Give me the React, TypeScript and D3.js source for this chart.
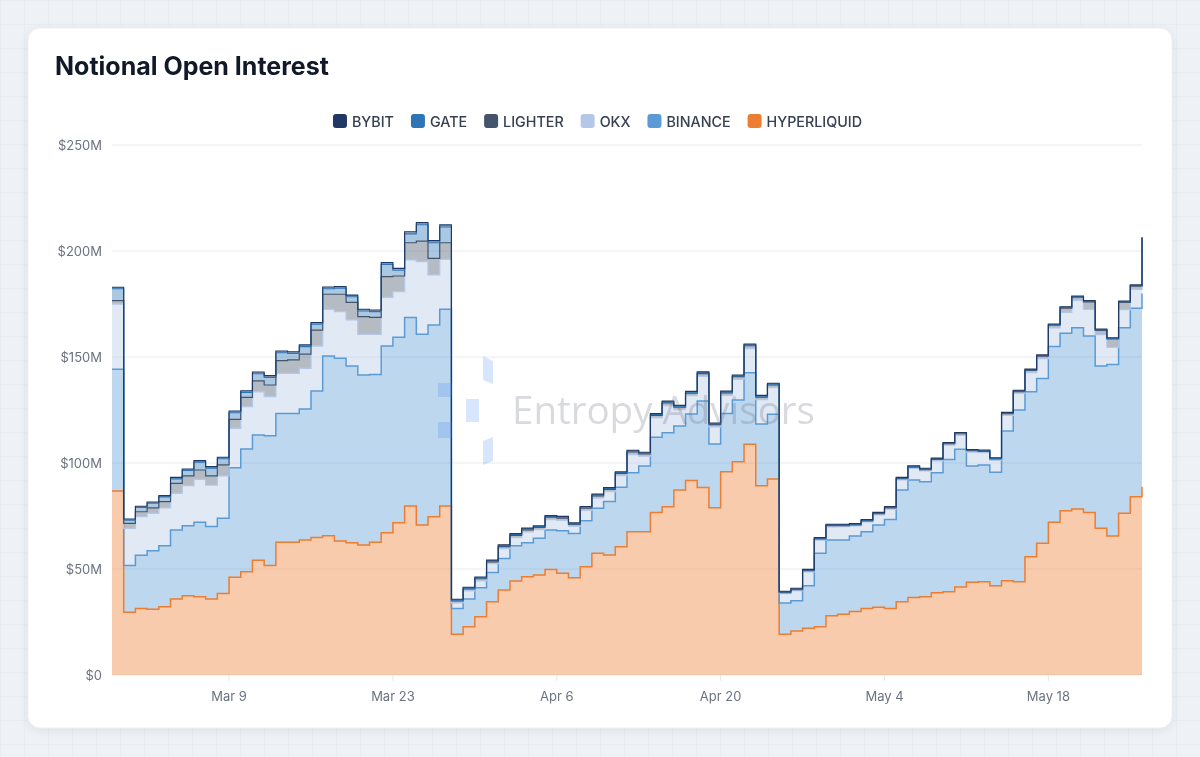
import React from 'react';
import * as d3 from 'd3';

// ---------- DATA ----------
const START_DATE = '2025-02-27';
const END_DATE = '2025-05-26';

// stacking order bottom -> top
const seriesKeys = ['HYPERLIQUID', 'BINANCE', 'OKX', 'LIGHTER', 'GATE', 'BYBIT'];
const legendOrder = ['BYBIT', 'GATE', 'LIGHTER', 'OKX', 'BINANCE', 'HYPERLIQUID'];
const seriesColors: Record<string, string> = {
  HYPERLIQUID: '#ed7d31',
  BINANCE: '#5b9bd5',
  OKX: '#b4c7e7',
  LIGHTER: '#44546a',
  GATE: '#2e75b6',
  BYBIT: '#1f3864',
};

// values in $M, one per day
const hyperliquid = [
  86.8, 29.6, 31.4, 31.0, 32.2, 35.8, 37.4, 36.9, 35.8, 38.5,
  46.1, 48.7, 54.1, 51.6, 62.6, 62.6, 63.7, 64.9, 65.7, 63.2,
  62.4, 61.3, 62.6, 67.1, 71.8, 79.7, 70.8, 74.7, 79.7, 19.2,
  22.8, 27.5, 34.6, 40.1, 44.3, 46.4, 47.2, 49.8, 48.0, 45.9,
  51.1, 57.4, 56.6, 60.5, 67.6, 67.6, 76.6, 79.4, 87.3, 91.7,
  88.4, 78.9, 95.9, 100.6, 108.8, 89.3, 92.5, 19.2, 20.8, 22.0,
  22.8, 28.0, 28.6, 29.9, 31.4, 31.9, 31.4, 34.6, 36.6, 36.9,
  38.8, 39.3, 41.5, 43.7, 44.0, 42.1, 44.5, 44.0, 55.8, 62.1,
  72.0, 77.5, 78.3, 76.6, 69.2, 65.6, 76.3, 84.1, 88.8,
];
const binance = [
  57.4, 22.0, 25.1, 27.6, 28.8, 32.6, 33.0, 35.1, 34.2, 35.4,
  51.7, 57.9, 59.1, 61.3, 60.8, 60.8, 61.8, 69.1, 84.8, 86.2,
  83.4, 80.2, 79.2, 88.1, 87.5, 88.9, 89.9, 90.4, 92.8, 12.2,
  13.0, 13.7, 13.7, 14.9, 16.7, 16.0, 17.3, 18.6, 20.1, 20.9,
  21.7, 21.2, 25.2, 28.1, 27.8, 31.0, 35.5, 34.9, 30.2, 31.4,
  40.8, 30.1, 27.5, 29.1, 33.8, 29.1, 30.5, 14.8, 14.2, 20.1,
  34.6, 35.7, 35.1, 35.7, 36.2, 38.9, 42.0, 52.7, 55.4, 54.3,
  56.6, 62.4, 65.0, 54.9, 55.1, 53.5, 70.6, 81.0, 77.8, 77.8,
  82.9, 83.7, 85.5, 83.3, 76.6, 80.9, 87.5, 88.9, 91.2,
];
const okx = [
  30.8, 17.6, 18.2, 17.7, 17.9, 17.3, 18.9, 20.3, 19.6, 20.0,
  18.6, 20.0, 20.4, 18.4, 18.9, 18.9, 19.2, 21.2, 22.0, 22.0,
  21.7, 19.2, 18.9, 22.9, 21.5, 27.2, 34.3, 23.6, 23.6, 2.6,
  3.9, 3.2, 4.2, 4.6, 3.8, 5.1, 4.1, 4.9, 4.9, 3.3,
  4.9, 4.9, 4.7, 5.4, 8.6, 4.6, 9.2, 12.8, 7.7, 8.7,
  11.7, 8.0, 8.5, 9.8, 11.4, 11.5, 12.6, 4.4, 4.8, 6.5,
  6.2, 6.2, 6.3, 4.7, 4.6, 4.7, 4.8, 4.7, 5.5, 5.1,
  5.6, 6.7, 6.6, 6.6, 5.8, 5.7, 7.4, 7.8, 9.1, 9.4,
  8.8, 9.9, 12.9, 12.6, 14.8, 8.0, 8.5, 8.9, 15.8,
];
const lighter = [
  1.6, 2.3, 2.3, 2.5, 2.9, 4.7, 4.6, 4.4, 4.3, 5.2,
  4.2, 4.4, 5.1, 5.5, 6.0, 6.3, 6.7, 7.5, 7.1, 8.2,
  8.3, 8.3, 8.0, 9.8, 7.4, 8.1, 9.7, 7.8, 7.8, 0.9,
  0.9, 1.0, 0.9, 1.0, 1.1, 1.0, 1.0, 1.1, 1.0, 0.9,
  1.0, 1.0, 1.1, 1.1, 1.2, 1.1, 1.2, 1.3, 1.2, 1.2,
  1.3, 1.1, 1.2, 1.2, 1.3, 1.2, 1.2, 0.5, 0.5, 0.6,
  0.6, 0.6, 0.5, 0.5, 0.5, 0.6, 0.6, 0.6, 0.6, 0.6,
  0.7, 0.7, 0.7, 0.6, 0.6, 0.6, 0.8, 0.9, 1.0, 1.1,
  1.3, 2.0, 1.5, 3.5, 2.0, 4.0, 3.5, 1.5, 10.2,
];
const gate = [
  5.6, 1.5, 2.0, 2.2, 2.2, 2.1, 2.6, 3.7, 3.7, 2.9,
  3.1, 2.3, 3.4, 3.6, 3.7, 3.1, 3.5, 2.8, 2.6, 2.8,
  2.6, 2.7, 2.7, 5.7, 2.7, 4.2, 7.7, 7.4, 7.4, 0.4,
  0.4, 0.4, 0.4, 0.4, 0.4, 0.4, 0.4, 0.4, 0.4, 0.4,
  0.4, 0.4, 0.4, 0.4, 0.4, 0.4, 0.4, 0.4, 0.4, 0.4,
  0.4, 0.4, 0.4, 0.4, 0.4, 0.4, 0.4, 0.3, 0.3, 0.3,
  0.3, 0.3, 0.3, 0.3, 0.3, 0.3, 0.3, 0.3, 0.3, 0.3,
  0.3, 0.3, 0.3, 0.3, 0.3, 0.3, 0.3, 0.3, 0.3, 0.3,
  0.3, 0.3, 0.3, 0.3, 0.3, 0.3, 0.3, 0.3, 0.3,
];
const bybit = [
  0.7, 0.6, 0.6, 0.6, 0.6, 0.7, 0.7, 0.7, 0.7, 0.7,
  0.8, 0.8, 0.8, 0.8, 0.8, 0.8, 0.8, 0.8, 0.8, 0.8,
  0.8, 0.8, 0.8, 0.9, 0.9, 1.0, 1.0, 1.0, 1.0, 0.4,
  0.4, 0.4, 0.4, 0.4, 0.4, 0.4, 0.4, 0.4, 0.4, 0.4,
  0.4, 0.4, 0.4, 0.4, 0.4, 0.4, 0.4, 0.4, 0.4, 0.4,
  0.4, 0.4, 0.4, 0.4, 0.4, 0.4, 0.4, 0.3, 0.3, 0.3,
  0.3, 0.3, 0.3, 0.3, 0.3, 0.3, 0.3, 0.3, 0.3, 0.3,
  0.3, 0.3, 0.3, 0.3, 0.3, 0.3, 0.3, 0.3, 0.3, 0.3,
  0.3, 0.3, 0.3, 0.3, 0.3, 0.3, 0.3, 0.3, 0.3,
];

const yTickValues = [0, 50, 100, 150, 200, 250];
const xTickDates = ['2025-03-09', '2025-03-23', '2025-04-06', '2025-04-20', '2025-05-04', '2025-05-18'];

const TITLE = 'Notional Open Interest';
const WATERMARK = 'Entropy Advisors';

// ---------- LAYOUT ----------
const W = 1200;
const H = 757;
const M = { left: 112, right: 1142, top: 145, bottom: 675 };
const FONT = 'Inter, "Noto Sans", sans-serif';

function measure(text: string, font: string): number {
  const c = document.createElement('canvas').getContext('2d');
  if (!c) return text.length * 8;
  c.font = font;
  return c.measureText(text).width;
}

export default function App() {
  const seriesData: Record<string, number[]> = {
    HYPERLIQUID: hyperliquid,
    BINANCE: binance,
    OKX: okx,
    LIGHTER: lighter,
    GATE: gate,
    BYBIT: bybit,
  };

  const dates = d3.utcDay.range(new Date(START_DATE), d3.utcDay.offset(new Date(END_DATE), 1));
  const rows = dates.map((d, i) => {
    const r: any = { date: d };
    seriesKeys.forEach((k) => (r[k] = seriesData[k][i]));
    return r;
  });

  const x = d3.scaleUtc().domain([dates[0], dates[dates.length - 1]]).range([M.left, M.right]);
  const y = d3.scaleLinear().domain([0, 250]).range([M.bottom, M.top]);

  const stacked = d3.stack<any>().keys(seriesKeys)(rows);
  const area = d3
    .area<any>()
    .x((d) => x(d.data.date))
    .y0((d) => y(d[0]))
    .y1((d) => y(d[1]))
    .curve(d3.curveStepAfter);
  const line = d3
    .line<any>()
    .x((d) => x(d.data.date))
    .y((d) => y(d[1]))
    .curve(d3.curveStepAfter);

  const fmtY = (v: number) => (v === 0 ? '$0' : `$${v}M`);
  const fmtX = d3.utcFormat('%b %-d');

  // legend layout
  const legendSize = 14.3;
  const legendFont = `500 ${legendSize}px ${FONT}`;
  const sw = 14;
  const swGap = 5;
  const itemGap = 17;
  const widths = legendOrder.map((k) => measure(k, legendFont));
  const totalW = widths.reduce((a, b) => a + b + sw + swGap, 0) + itemGap * (legendOrder.length - 1);
  let lx = 597.5 - totalW / 2;
  const legendItems = legendOrder.map((k, i) => {
    const item = { key: k, x: lx };
    lx += sw + swGap + widths[i] + itemGap;
    return item;
  });

  const strokeW: Record<string, number> = {
    HYPERLIQUID: 1.5,
    BINANCE: 1.5,
    OKX: 1.3,
    LIGHTER: 1.2,
    GATE: 1.1,
    BYBIT: 1.1,
  };

  return (
    <div style={{ position: 'fixed', left: 0, top: 0, width: W, height: H }}>
      <svg width={W} height={H} style={{ display: 'block', fontFamily: FONT }}>
        <defs>
          <pattern id="bggrid" width="24" height="24" patternUnits="userSpaceOnUse">
            <rect width="24" height="24" fill="#eef2f7" />
            <path d="M24 0 L0 0 0 24" fill="none" stroke="#e3e8ef" strokeWidth="1" />
          </pattern>
          <filter id="shadow" x="-5%" y="-5%" width="110%" height="115%">
            <feDropShadow dx="0" dy="2" stdDeviation="4" floodColor="#0f172a" floodOpacity="0.08" />
          </filter>
          <clipPath id="plotclip">
            <rect x={M.left} y={M.top - 10} width={M.right - M.left + 1} height={M.bottom - M.top + 10} />
          </clipPath>
        </defs>
        <rect width={W} height={H} fill="url(#bggrid)" />
        <rect x={28} y={28} width={1144} height={700} rx={12} fill="#ffffff" filter="url(#shadow)" stroke="#e5e7eb" strokeWidth={0.6} />

        <text x={55} y={75} fontSize={25} fontWeight={700} fill="#111827">
          {TITLE}
        </text>

        {/* legend */}
        {legendItems.map((it) => (
          <g key={it.key}>
            <rect x={it.x} y={114} width={sw} height={sw} rx={3} fill={seriesColors[it.key]} />
            <text x={it.x + sw + swGap} y={126.5} fontSize={legendSize} fontWeight={500} fill="#374151">
              {it.key}
            </text>
          </g>
        ))}

        {/* grid */}
        {yTickValues.map((v) => (
          <g key={v}>
            <line x1={M.left} x2={M.right} y1={y(v)} y2={y(v)} stroke="#e8ebef" strokeWidth={1} />
            <text x={102} y={y(v) + 4.5} fontSize={13} fill="#6b7280" textAnchor="end">
              {fmtY(v)}
            </text>
          </g>
        ))}
        {xTickDates.map((s) => {
          const d = new Date(s);
          return (
            <g key={s}>
              <line x1={x(d)} x2={x(d)} y1={M.bottom} y2={M.bottom + 6} stroke="#e5e7eb" />
              <text x={x(d)} y={701} fontSize={13} fill="#6b7280" textAnchor="middle">
                {fmtX(d)}
              </text>
            </g>
          );
        })}

        {/* areas */}
        <g clipPath="url(#plotclip)">
          {stacked.map((s) => (
            <path key={s.key + 'a'} d={area(s) || ''} fill={seriesColors[s.key]} fillOpacity={0.4} stroke="none" />
          ))}
          {stacked.map((s) => (
            <path
              key={s.key + 'l'}
              d={line(s) || ''}
              fill="none"
              stroke={seriesColors[s.key]}
              strokeWidth={strokeW[s.key]}
              strokeLinejoin="miter"
            />
          ))}
        </g>

        {/* watermark */}
        <g pointerEvents="none">
          <g fill="#3b82f6" opacity={0.2}>
            <polygon points="483,356 493,361 493,384 483,380" />
            <polygon points="466,399 479,399 479,422 466,422" />
            <polygon points="483,441 493,437 493,461 483,465" />
            <polygon points="438,383 452,383 452,397 438,397" />
            <polygon points="438,422 452,422 452,438 438,438" />
          </g>
          <text x={512} y={424} fontSize={38.5} fill="#6b7280" opacity={0.26} fontFamily='"Open Sans", sans-serif'>
            {WATERMARK}
          </text>
        </g>
      </svg>
    </div>
  );
}
